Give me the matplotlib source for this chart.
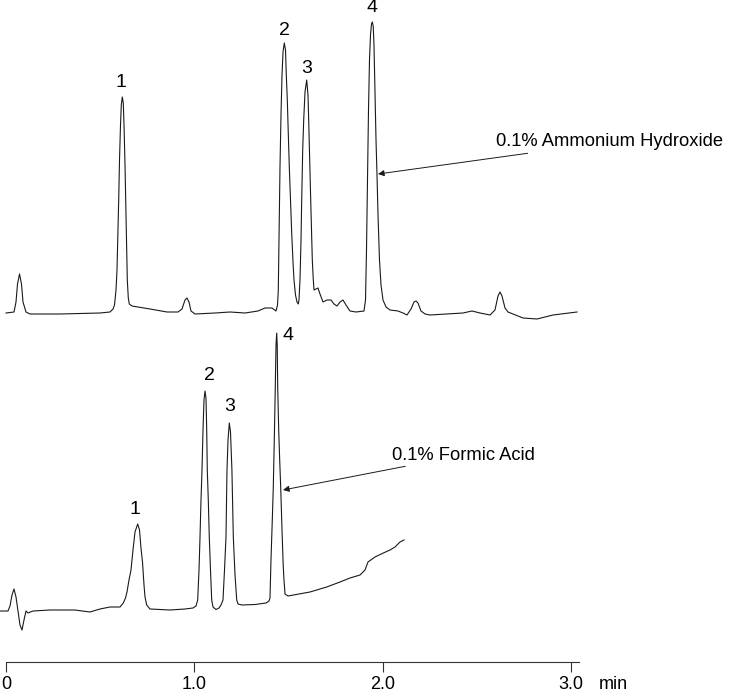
import numpy as np
import matplotlib.pyplot as plt

plt.rcParams['font.family'] = ['Liberation Sans', 'DejaVu Sans']

# Chromatogram, 0.1% ammonium hydroxide: time (min), signal (arb. units)
t_nh4oh = [0.0, 0.0425, 0.0531, 0.0611, 0.0717, 0.0823, 0.0903, 0.1062, 0.1275, 0.2868,
           0.4992, 0.5523, 0.5684, 0.5762, 0.5842, 0.5895, 0.5948, 0.5985, 0.6028, 0.6081,
           0.6123, 0.6176, 0.6229, 0.6267, 0.6320, 0.6357, 0.6400, 0.6442, 0.6495, 0.6548,
           0.6691, 0.7647, 0.8550, 0.9134, 0.9347, 0.9506, 0.9612, 0.9719, 0.9825, 1.0037,
           1.1099, 1.1896, 1.2693, 1.3383, 1.3755, 1.4126, 1.4339, 1.4419, 1.4461, 1.4498,
           1.4551, 1.4604, 1.4658, 1.4711, 1.4780, 1.4843, 1.4886, 1.4939, 1.4992, 1.5045,
           1.5109, 1.5173, 1.5242, 1.5295, 1.5374, 1.5454, 1.5523, 1.5560, 1.5613, 1.5667,
           1.5704, 1.5757, 1.5810, 1.5879, 1.5969, 1.6038, 1.6075, 1.6128, 1.6182, 1.6267,
           1.6320, 1.6357, 1.6463, 1.6569, 1.6675, 1.6835, 1.7049, 1.7260, 1.7418, 1.7578,
           1.7738, 1.7897, 1.8056, 1.8269, 1.8587, 1.9012, 1.9092, 1.9145, 1.9198, 1.9251,
           1.9304, 1.9357, 1.9411, 1.9453, 1.9501, 1.9543, 1.9596, 1.9650, 1.9703, 1.9756,
           1.9835, 1.9915, 2.0021, 2.0181, 2.0393, 2.0817, 2.1083, 2.1295, 2.1508, 2.1667,
           2.1774, 2.1879, 2.2039, 2.2252, 2.2517, 2.3420, 2.4270, 2.4748, 2.5173, 2.5704,
           2.5969, 2.6129, 2.6235, 2.6341, 2.6500, 2.6660, 2.6925, 2.7456, 2.8200, 2.9050,
           3.0324]
s_nh4oh = [0, 1, 11, 29, 39, 29, 11, 1, -1, -1,
           0, 1, 4, 8, 23, 43, 83, 113, 153, 188,
           208, 216, 210, 188, 148, 113, 73, 33, 15, 9,
           7, 4, 1, 1, 4, 13, 15, 11, 2, -1,
           0, 1, 0, 2, 5, 5, 2, 8, 23, 73,
           146, 198, 238, 261, 270, 263, 238, 213, 178, 146,
           113, 80, 51, 33, 18, 11, 9, 13, 33, 73,
           113, 163, 193, 221, 233, 218, 193, 153, 113, 53,
           33, 23, 24, 25, 19, 11, 13, 13, 9, 7,
           11, 13, 8, 2, 1, 2, 13, 63, 133, 203,
           253, 278, 289, 291, 287, 268, 223, 173, 138, 98,
           53, 28, 13, 6, 3, 2, 0, -2, 4, 11,
           12, 10, 2, -1, -2, -1, 0, 2, 0, -2,
           3, 17, 21, 17, 5, 1, -1, -5, -6, -2,
           1]

# Chromatogram, 0.1% formic acid
t_formic = [-0.0319, 0.0106, 0.0212, 0.0319, 0.0425, 0.0531, 0.0637, 0.0743, 0.0850, 0.0956,
            0.1062, 0.1168, 0.1434, 0.2337, 0.3664, 0.4461, 0.4992, 0.5523, 0.6054, 0.6229,
            0.6346, 0.6426, 0.6532, 0.6638, 0.6744, 0.6851, 0.6994, 0.7090, 0.7169, 0.7249,
            0.7329, 0.7382, 0.7472, 0.7647, 0.8709, 0.9506, 0.9931, 1.0090, 1.0180, 1.0250,
            1.0303, 1.0356, 1.0409, 1.0462, 1.0515, 1.0568, 1.0621, 1.0659, 1.0690, 1.0743,
            1.0796, 1.0860, 1.0924, 1.0993, 1.1152, 1.1312, 1.1418, 1.1524, 1.1604, 1.1683,
            1.1736, 1.1790, 1.1859, 1.1922, 1.1998, 1.2072, 1.2162, 1.2253, 1.2322, 1.2534,
            1.3224, 1.3808, 1.3967, 1.4020, 1.4073, 1.4142, 1.4195, 1.4248, 1.4301, 1.4339,
            1.4376, 1.4403, 1.4429, 1.4482, 1.4535, 1.4588, 1.4658, 1.4721, 1.4763, 1.4817,
            1.4976, 1.6144, 1.7031, 1.7738, 1.8269, 1.8800, 1.9066, 1.9225, 1.9596, 2.0037,
            2.0393, 2.0658, 2.0924, 2.1136]
s_formic = [-1, -1, 4, 15, 21, 13, -1, -15, -20, -10,
            -1, -3, -1, 0, 0, -2, 1, 3, 3, 7,
            12, 18, 30, 40, 60, 78, 86, 80, 62, 48,
            25, 13, 5, 1, 0, 1, 2, 4, 10, 40,
            73, 110, 140, 180, 210, 219, 212, 180, 140, 110,
            73, 40, 10, 3, 0.5, 2, 5, 10, 40, 73,
            140, 170, 187, 178, 140, 73, 35, 10, 6, 5,
            5.5, 7, 9, 12, 50, 90, 123, 170, 223, 265,
            277, 265, 223, 180, 150, 123, 80, 45, 30, 16,
            14, 18, 23, 28, 32, 35, 40, 48, 53, 57,
            60, 63, 68, 70]

peak_names = ['1', '2', '3', '4']
rt_nh4oh = [0.6176, 1.4780, 1.5969, 1.9453]
rt_formic = [0.6994, 1.0568, 1.1859, 1.4376]

xticks = [0, 1, 2, 3]
xticklabels = ['0', '1.0', '2.0', '3.0']

offset_nh4oh = 349
offset_formic = 52

fig = plt.figure(figsize=(7.5, 6.93), dpi=100)
ax = fig.add_axes([0, 31 / 693, 1, 662 / 693])

line_kw = dict(color='#1a1a1a', lw=0.8)
ax.plot(t_nh4oh, np.array(s_nh4oh) + offset_nh4oh, **line_kw)
ax.plot(t_formic, np.array(s_formic) + offset_formic, **line_kw)

# peak numbers (offsets in points from the apex)
lab_off_nh4oh = [(-1, 4), (0, 3), (0, 2), (0, 4)]
lab_off_formic = [(-2, 4), (3, 5), (0, 6), (8, -8)]
for t_arr, s_arr, base, rts, offs in [(t_nh4oh, s_nh4oh, offset_nh4oh, rt_nh4oh, lab_off_nh4oh),
                                      (t_formic, s_formic, offset_formic, rt_formic, lab_off_formic)]:
    t_arr = np.array(t_arr)
    for name, rt, off in zip(peak_names, rts, offs):
        i = np.argmin(abs(t_arr - rt))
        ax.annotate(name, xy=(t_arr[i], s_arr[i] + base), xytext=off, textcoords='offset points',
                    ha='center', va='bottom', fontsize=14)

arrow = dict(arrowstyle='-|>', color='#1a1a1a', lw=0.7, mutation_scale=9, shrinkA=0, shrinkB=0)
ax.annotate('0.1% Ammonium Hydroxide', xy=(1.9756, 662 - 174), xytext=(2.6, 662 - 142),
            ha='left', va='center', fontsize=13.2, arrowprops=arrow)
ax.annotate('0.1% Formic Acid', xy=(1.4711, 662 - 490), xytext=(2.05, 662 - 455),
            ha='left', va='center', fontsize=13.2, arrowprops=arrow)

ax.set_xlim(-6 / 188.3, 744 / 188.3)
ax.set_ylim(0, 662)
for side in ['top', 'left', 'right']:
    ax.spines[side].set_visible(False)
ax.spines['bottom'].set_bounds(0, 3.045)
ax.spines['bottom'].set_color('#333333')
ax.spines['bottom'].set_linewidth(0.8)
ax.set_yticks([])
ax.set_xticks(xticks)
ax.set_xticklabels(xticklabels, fontsize=13)
ax.tick_params(axis='x', direction='out', length=7, width=0.8, color='#333333', pad=3)
ax.annotate('min', xy=(3.0, 0), xycoords=('data', 'axes fraction'), xytext=(20, -10),
            textcoords='offset points', ha='left', va='top', fontsize=13)

fig.savefig('out.png', dpi=100)
